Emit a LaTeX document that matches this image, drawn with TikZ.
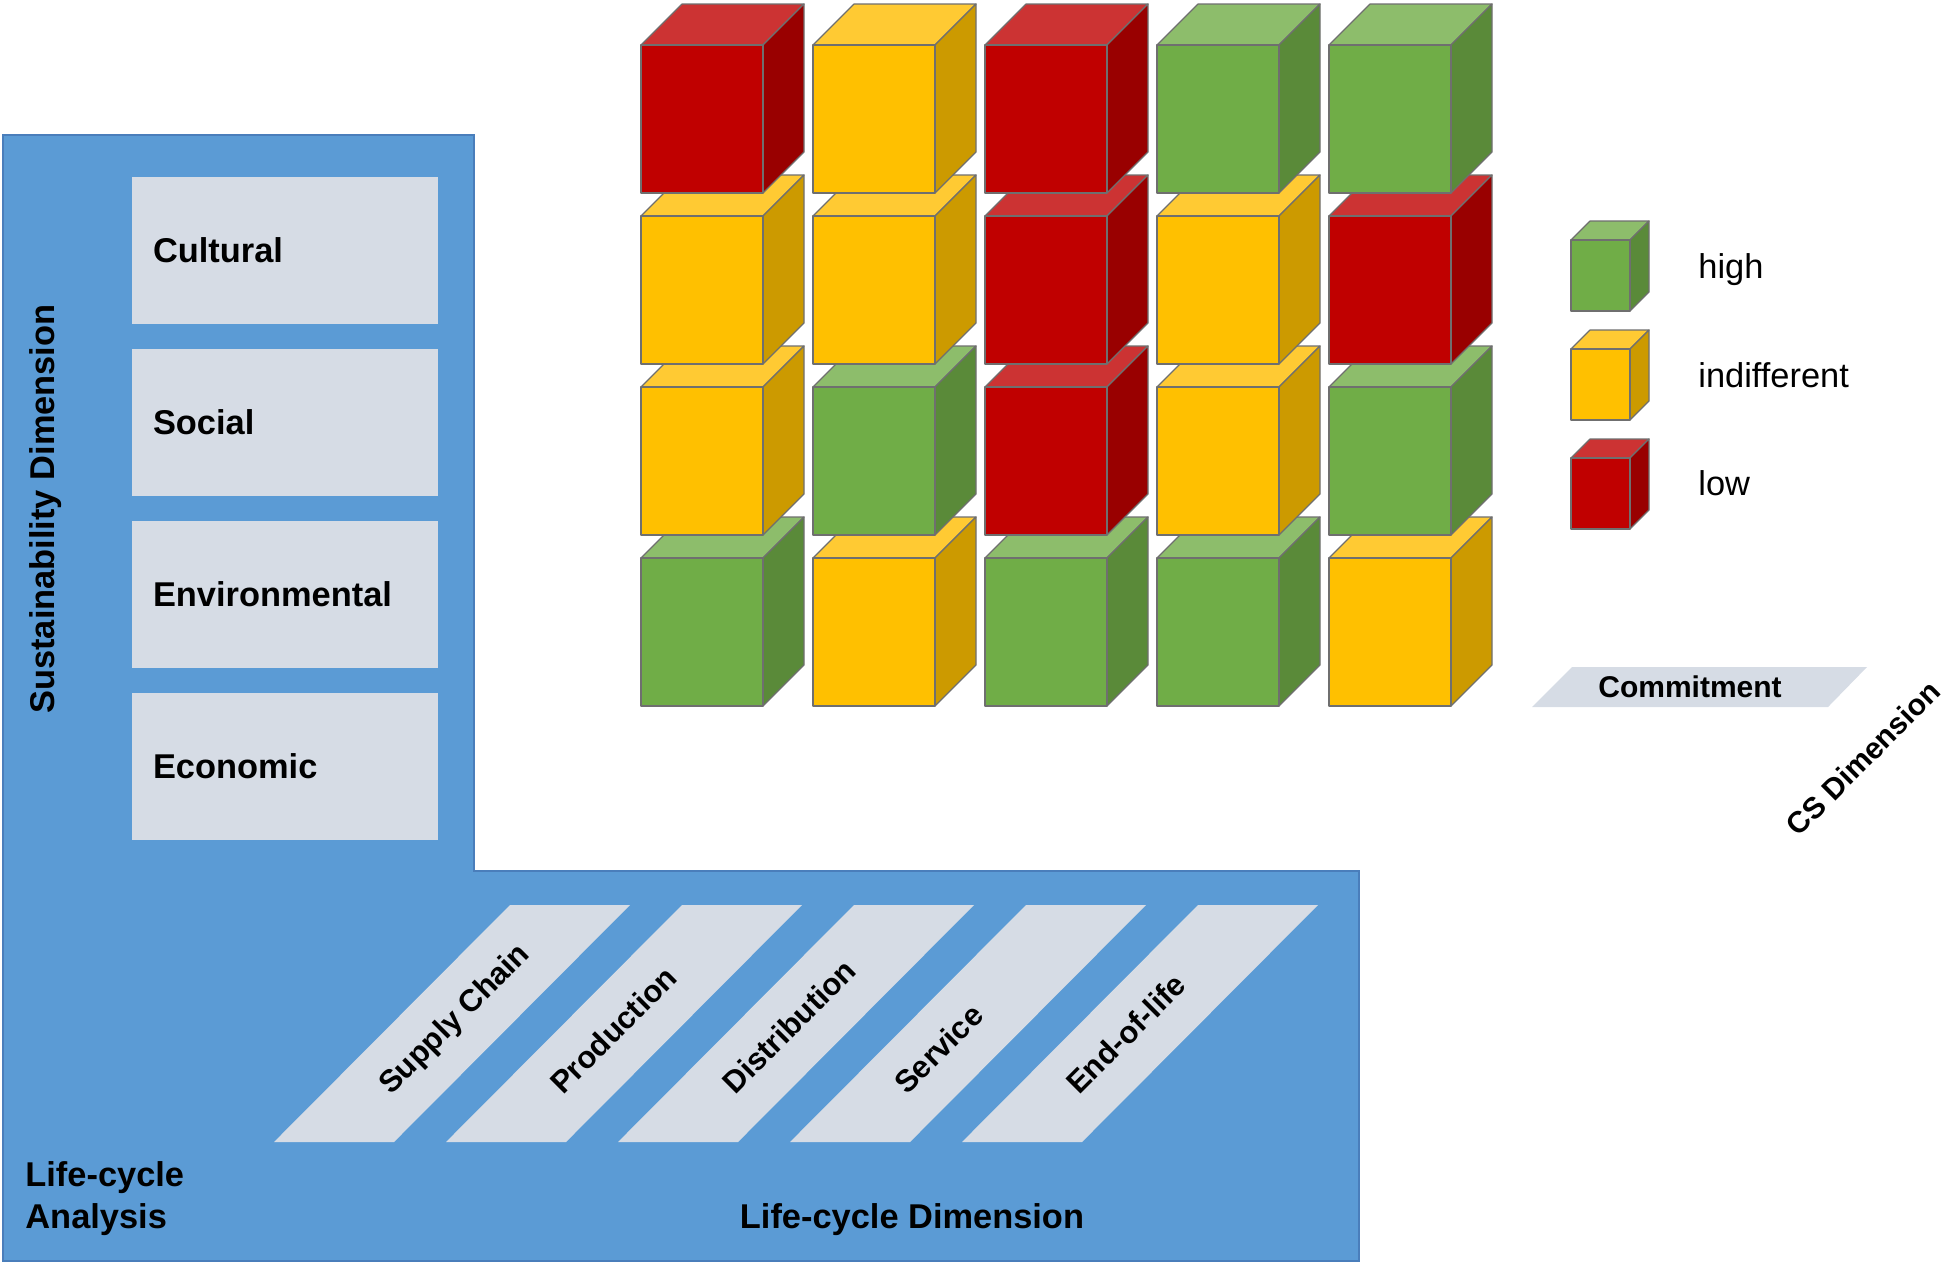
\documentclass[tikz,border=0pt]{standalone}
\usepackage{fontspec}
\setmainfont{Liberation Sans}
\usepackage{tikz}

\definecolor{lcblue}{HTML}{5B9BD5}
\definecolor{lcedge}{HTML}{4A7EBB}
\definecolor{boxgray}{HTML}{D6DCE5}
\definecolor{cubeedge}{HTML}{6F6F6F}
\definecolor{redF}{HTML}{C00000}
\definecolor{redS}{HTML}{990000}
\definecolor{redT}{HTML}{CC3333}
\definecolor{yelF}{HTML}{FFC000}
\definecolor{yelS}{HTML}{CC9A00}
\definecolor{yelT}{HTML}{FFCA33}
\definecolor{grnF}{HTML}{70AD47}
\definecolor{grnS}{HTML}{5A8A39}
\definecolor{grnT}{HTML}{8DBD6B}

\tikzset{
  cubeline/.style={draw=cubeedge, line width=0.6pt, line join=round},
  dimbox/.style={fill=boxgray, minimum width=153pt, minimum height=73.5pt,
    text width=132pt, inner xsep=10.5pt, align=left,
    font=\bfseries\fontsize{17.2}{20}\selectfont},
  slantlabel/.style={rotate=45, anchor=base west, inner sep=0pt,
    font=\bfseries\fontsize{15.5}{18}\selectfont},
  dimlabel/.style={inner sep=0pt, font=\bfseries\fontsize{17.2}{21}\selectfont},
  legtext/.style={anchor=base west, inner sep=0pt, font=\fontsize{17.2}{20}\selectfont}
}

% x, y (front top left), width, height, depth, colour
\newcommand{\drawcube}[6]{%
  \draw[cubeline, fill=#6T] (#1,#2) -- ++(#5,-#5) -- ++(#3,0) -- ++(-#5,#5) -- cycle;
  \draw[cubeline, fill=#6S] (#1+#3,#2) -- ++(#5,-#5) -- ++(0,#4) -- ++(-#5,#5) -- cycle;
  \draw[cubeline, fill=#6F] (#1,#2) rectangle ++(#3,#4);
}

\begin{document}
\begin{tikzpicture}[x=0.5pt, y=-0.5pt]
  \useasboundingbox (0,0) rectangle (1946,1265);

  % life-cycle analysis frame
  \draw[fill=lcblue, draw=lcedge, line width=0.75pt]
    (3,135) -- (474,135) -- (474,871) -- (1359,871) -- (1359,1261) -- (3,1261) -- cycle;

  % sustainability dimension
  \node[dimbox] (cult) at (285,250.5) {Cultural};
  \node[dimbox] (soc) at (285,422.5) {Social};
  \node[dimbox] (env) at (285,594.5) {Environmental};
  \node[dimbox] (eco) at (285,766.5) {Economic};
  \node[dimlabel, rotate=90] (sdim) at (46,509) {Sustainability Dimension};

  % life-cycle dimension
  \foreach \lab [count=\k from 0] in {Supply Chain, Production, Distribution, Service, End-of-life} {
    \fill[boxgray] (274+172*\k,1142) -- ++(120,0) -- ++(236,-237) -- ++(-120,0) -- cycle;
    \node[slantlabel] (phase\k) at (391+172*\k,1096) {\lab};
  }
  \node[dimlabel] (ldim) at (912,1220) {Life-cycle Dimension};
  \node[dimlabel, anchor=west, align=left] (lca) at (25,1199) {Life-cycle\\Analysis};

  % cube matrix, bottom row first
  \foreach \row/\cols in {3/{grn,yel,grn,grn,yel}, 2/{yel,grn,red,yel,grn},
                          1/{yel,yel,red,yel,red}, 0/{red,yel,red,grn,grn}} {
    \foreach \clr [count=\col from 0] in \cols {
      \drawcube{641+172*\col}{45+171*\row}{122}{148}{41}{\clr}
    }
  }

  % legend
  \drawcube{1571}{240}{59}{71}{19}{grn}
  \drawcube{1571}{349}{59}{71}{19}{yel}
  \drawcube{1571}{458}{59}{71}{19}{red}
  \node[legtext] (lhigh) at (1698,278) {high};
  \node[legtext] (lind) at (1698,387) {indifferent};
  \node[legtext] (llow) at (1698,495) {low};

  % cs dimension
  \fill[boxgray] (1532,707) -- (1828,707) -- (1867,667) -- (1572,667) -- cycle;
  \node[dimlabel, font=\bfseries\fontsize{15}{18}\selectfont] (commit) at (1690,687) {Commitment};
  \node[dimlabel, rotate=45, font=\bfseries\fontsize{15}{18}\selectfont] (csdim) at (1863,758) {CS Dimension};
\end{tikzpicture}
\end{document}
